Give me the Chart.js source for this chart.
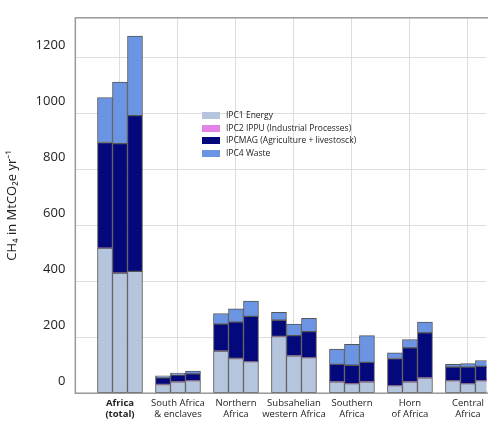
<!DOCTYPE html>
<html>
<head>
<meta charset="utf-8">
<script src="https://cdn.jsdelivr.net/npm/chart.js@4/dist/chart.umd.min.js"></script>
<style>
  body { margin: 0; background: #fff; overflow: hidden; font-family: "Open Sans", sans-serif; }
  #wrap { position: relative; width: 488px; height: 424px; }
  #legend { position: absolute; left: 202px; top: 109px; font-size: 8.5px; line-height: 12.5px; color: #222; }
  #legend span.sw { display: inline-block; width: 18px; height: 7px; margin-right: 6px; vertical-align: -1px; }
</style>
</head>
<body>
<div id="wrap">
  <canvas id="chart" width="488" height="424"></canvas>
  <div id="legend"></div>
</div>
<script>
const regions = [['Africa', '(total)'], ['South Africa', '& enclaves'], ['Northern', 'Africa'],
  ['Subsahelian', 'western Africa'], ['Southern', 'Africa'], ['Horn', 'of Africa'], ['Central', 'Africa']];

// cumulative tops, three bars per region
const energy = [[519, 430, 436], [31, 41, 45], [151, 124, 113], [203, 134, 127], [41, 34, 41], [27, 41, 55], [45, 34, 45]];
const ippu   = [[0, 0, 0], [0, 0, 0], [0, 0, 0], [0, 0, 0], [0, 0, 0], [0, 0, 0], [0, 0, 0]];
const magTop = [[897, 893, 993], [55, 65, 69], [247, 254, 275], [261, 206, 220], [103, 100, 110], [124, 162, 216], [93, 93, 96]];
const total  = [[1058, 1113, 1278], [62, 72, 79], [285, 302, 330], [289, 247, 268], [158, 175, 206], [144, 192, 254], [103, 106, 117]];
const yTicks = [0, 200, 400, 600, 800, 1000, 1200];

const series = [
  { name: 'IPC1 Energy', color: '#b4c5dd' },
  { name: 'IPC2 IPPU (Industrial Processes)', color: '#e383e6' },
  { name: 'IPCMAG (Agriculture + livestosck)', color: '#03087a' },
  { name: 'IPC4 Waste', color: '#6b95e3' }
];

const datasets = [];
for (let b = 0; b < 3; b++) {
  const parts = [
    energy.map(r => r[b]),
    ippu.map(r => r[b]),
    magTop.map((r, i) => r[b] - energy[i][b]),
    total.map((r, i) => r[b] - magTop[i][b])
  ];
  parts.forEach((vals, k) => {
    datasets.push({
      label: series[k].name,
      data: vals.map((v, i) => ({ x: i, y: v })),
      backgroundColor: series[k].color,
      borderColor: '#555',
      borderWidth: k === 1 ? 0 : 1,
      borderSkipped: false,
      stack: 's' + b,
      barThickness: 15
    });
  });
}

document.getElementById('legend').innerHTML = series.map(s =>
  `<div><span class="sw" style="background:${s.color}"></span>${s.name}</div>`).join('');

const frame = {
  id: 'frame',
  afterDraw(chart) {
    const { ctx, chartArea: a } = chart;
    ctx.save();
    ctx.strokeStyle = '#999';
    ctx.lineWidth = 1.5;
    ctx.strokeRect(a.left, a.top, a.right - a.left + 5, a.bottom - a.top);
    ctx.restore();
  }
};

new Chart(document.getElementById('chart'), {
  type: 'bar',
  data: { datasets },
  plugins: [frame],
  options: {
    responsive: false,
    animation: false,
    layout: { padding: { top: 5, right: 0, left: 0, bottom: 0 } },
    plugins: { legend: { display: false }, tooltip: { enabled: false } },
    scales: {
      x: {
        type: 'linear',
        offset: false,
        min: -0.77,
        max: 6.32,
        afterBuildTicks: axis => { axis.ticks = regions.map((_, i) => ({ value: i })); },
        grid: { color: '#ddd', borderDash: [2, 2], drawTicks: false, offset: false },
        border: { display: false },
        ticks: {
          padding: 4,
          maxRotation: 0,
          minRotation: 0,
          autoSkip: false,
          color: '#222',
          font: c => ({ family: 'Open Sans', size: 9.5, lineHeight: 1.2, weight: c.index === 0 ? 'bold' : 'normal' }),
          callback: (v, i) => regions[i]
        }
      },
      y: {
        min: 0,
        max: 1343,
        afterBuildTicks: axis => { axis.ticks = yTicks.map(v => ({ value: v })); },
        grid: { color: '#ddd', borderDash: [2, 2], drawTicks: false },
        border: { display: false },
        ticks: { color: '#222', padding: 10, labelOffset: -12, font: { family: 'Open Sans', size: 13 }, callback: v => String(v) },
        title: { display: true, text: 'CH₄ in MtCO₂e yr⁻¹', color: '#222', font: { family: 'Open Sans', size: 13 }, padding: { bottom: 6 } }
      }
    }
  }
});
</script>
</body>
</html>
